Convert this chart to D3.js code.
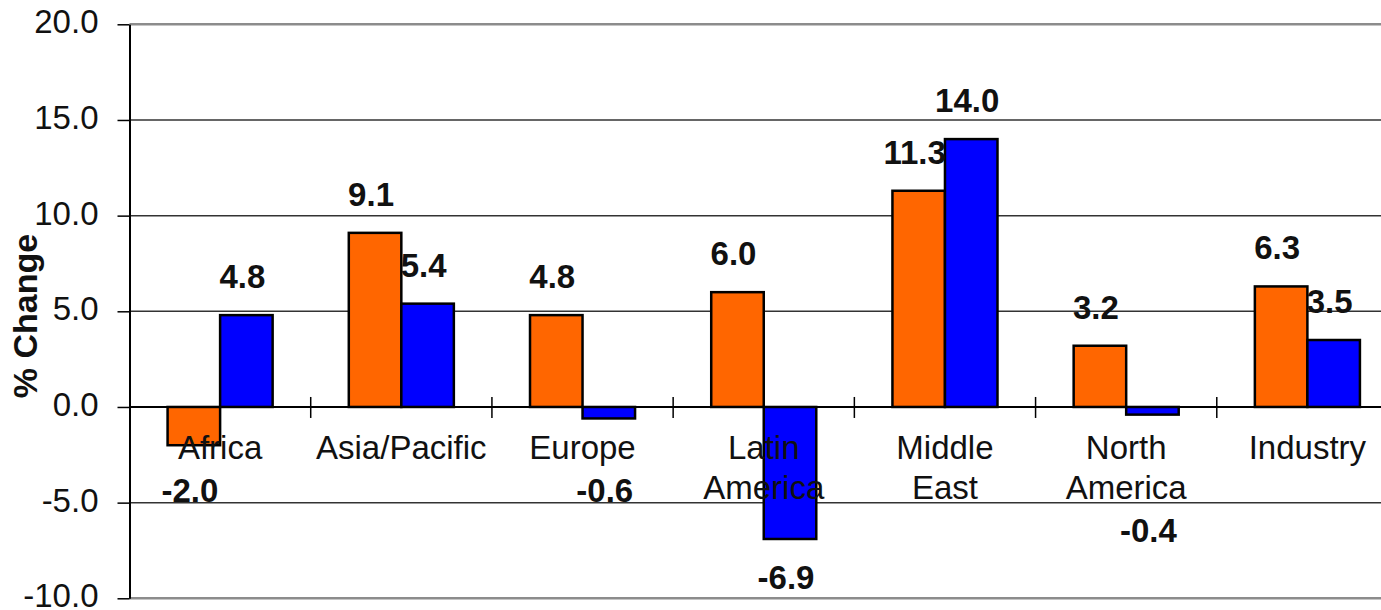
<!DOCTYPE html>
<html>
<head>
<meta charset="utf-8">
<script src="https://cdn.jsdelivr.net/npm/d3@7"></script>
<style>
  body { margin: 0; background: #fff; }
  svg { display: block; font-family: "Liberation Sans", Arial, sans-serif; }
</style>
</head>
<body>
<script>

// categories, one per group (\n = line break in the label)
var categories = ['Africa', 'Asia/Pacific', 'Europe', 'Latin\nAmerica', 'Middle\nEast', 'North\nAmerica', 'Industry'];
var seriesNames = ['first', 'second'];
var orangeValues = [-2.0, 9.1, 4.8, 6.0, 11.3, 3.2, 6.3];
var blueValues = [4.8, 5.4, -0.6, -6.9, 14.0, -0.4, 3.5];
var yTicks = [-10, -5, 0, 5, 10, 15, 20];

var colors = { first: '#ff6600', second: '#0000ff' };

var width = 1381,
    height = 610;

// plot area (the right side runs past the picture edge, like the original)
var plot = { left: 129.5, top: 24.3, bottom: 598.3, right: 1398 };

// category label lines
var catFirstLine = 52,
    catLineStep = 40;

var rows = categories.map(function (c, i) {
    return { cat: c, lines: c.split('\n').length, first: orangeValues[i], second: blueValues[i] };
});

var svg = d3.select('body')
    .append('svg')
    .attr('width', width)
    .attr('height', height);

// SCALES
var y = d3.scaleLinear()
    .domain([d3.min(yTicks), d3.max(yTicks)])
    .range([plot.bottom, plot.top]);

var x0 = d3.scaleBand()
    .domain(categories)
    .range([plot.left, plot.right])
    .paddingInner(0)
    .paddingOuter(0);

var x1 = d3.scaleBand()
    .domain(seriesNames)
    .range([0, x0.bandwidth()])
    .paddingInner(0)
    .paddingOuter(0.725);

var fmt = function (d) { return d.toFixed(1); };

// GRIDLINES
var isEdge = function (d) { return d === yTicks[0] || d === yTicks[yTicks.length - 1]; };
svg.append('g')
    .selectAll('line')
    .data(yTicks.filter(function (t) { return t !== 0; }))
    .enter().append('line')
    .attr('x1', plot.left)
    .attr('x2', plot.right)
    .attr('y1', function (d) { return y(d); })
    .attr('y2', function (d) { return y(d); })
    .attr('stroke', function (d) { return isEdge(d) ? '#8c8c8c' : '#333'; })
    .attr('stroke-width', function (d) { return isEdge(d) ? 2.5 : 1.5; });

// BARS
var groups = svg.append('g')
    .selectAll('g')
    .data(rows)
    .enter().append('g')
    .attr('transform', function (d) { return translation(x0(d.cat), 0); });

var pairs = function (d) {
    return seriesNames.map(function (s) { return { key: s, value: d[s], lines: d.lines }; });
};

groups.selectAll('rect')
    .data(pairs)
    .enter().append('rect')
    .attr('x', function (d) { return x1(d.key); })
    .attr('y', function (d) { return Math.min(y(d.value), y(0)); })
    .attr('width', x1.bandwidth())
    .attr('height', function (d) { return Math.abs(y(d.value) - y(0)); })
    .attr('fill', function (d) { return colors[d.key]; })
    .attr('stroke', '#000')
    .attr('stroke-width', 2.5);

// Y AXIS
var yAxis = d3.axisLeft(y)
    .tickValues(yTicks)
    .tickSize(12)
    .tickSizeOuter(0)
    .tickPadding(19)
    .tickFormat(fmt);

var ya = svg.append('g')
    .attr('transform', translation(plot.left, 0))
    .call(yAxis);
ya.select('.domain').attr('stroke', '#000').attr('stroke-width', 2);
ya.selectAll('.tick line').attr('stroke', '#000').attr('stroke-width', 1.5);
ya.selectAll('.tick text')
    .attr('dy', '0.26em')
    .attr('fill', '#111')
    .style('font-size', '33px');

// X AXIS AT ZERO with ticks between categories
svg.append('line')
    .attr('x1', plot.left)
    .attr('x2', plot.right)
    .attr('y1', y(0))
    .attr('y2', y(0))
    .attr('stroke', '#000')
    .attr('stroke-width', 2);

svg.append('g')
    .selectAll('line')
    .data(categories.slice(1).map(function (c) { return x0(c); }).concat([plot.right]))
    .enter().append('line')
    .attr('x1', function (d) { return d; })
    .attr('x2', function (d) { return d; })
    .attr('y1', y(0) - 10)
    .attr('y2', y(0) + 11)
    .attr('stroke', '#000')
    .attr('stroke-width', 1.5);

// CATEGORY LABELS
var catText = svg.append('g')
    .selectAll('text')
    .data(categories)
    .enter().append('text')
    .attr('x', function (d) { return x0(d) + x0.bandwidth() / 2; })
    .attr('y', y(0) + catFirstLine)
    .attr('text-anchor', 'middle')
    .attr('fill', '#111')
    .style('font-size', '33px');

catText.selectAll('tspan')
    .data(function (d) { return d.split('\n'); })
    .enter().append('tspan')
    .attr('x', function () { return this.parentNode.getAttribute('x'); })
    .attr('dy', function (d, i) { return i === 0 ? 0 : catLineStep; })
    .text(function (d) { return d; });

// DATA LABELS
// negative labels go below the bar, but never above the category text
groups.selectAll('text.val')
    .data(pairs)
    .enter().append('text')
    .attr('class', 'val')
    .attr('x', function (d) { return x1(d.key) + x1.bandwidth() / 2 - 4; })
    .attr('y', function (d) {
        if (d.value >= 0) return y(d.value) - 27;
        var below = y(0) + catFirstLine + catLineStep * (d.lines - 1) + 43;
        return Math.max(y(d.value) + 50, below);
    })
    .attr('text-anchor', 'middle')
    .attr('fill', '#111')
    .style('font-size', '33px')
    .style('font-weight', 'bold')
    .text(function (d) { return fmt(d.value); });

// Y AXIS TITLE
svg.append('text')
    .attr('transform', translation(37, 316) + ' rotate(-90)')
    .attr('text-anchor', 'middle')
    .attr('fill', '#111')
    .style('font-size', '34px')
    .style('font-weight', 'bold')
    .text('% Change');

function translation(x, y) {
    return 'translate(' + x + ',' + y + ')';
}
</script>
</body>
</html>
